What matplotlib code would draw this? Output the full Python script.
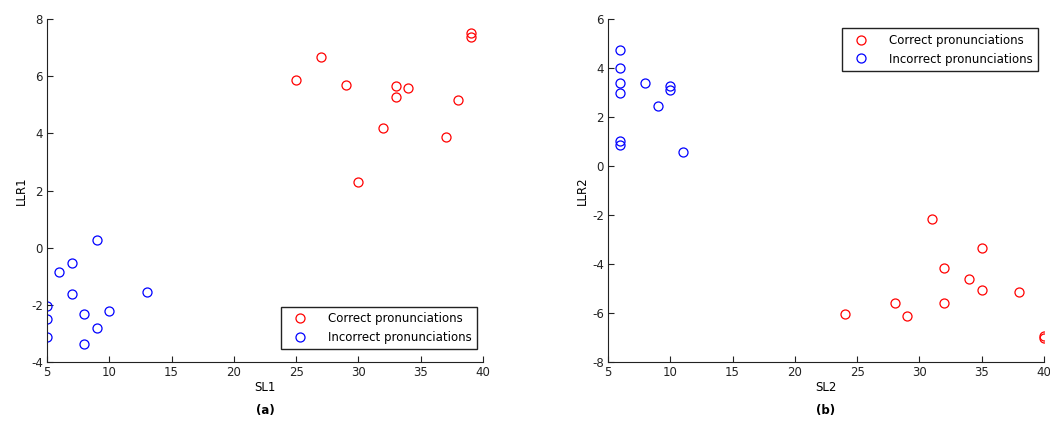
import matplotlib
matplotlib.use("Agg")
import matplotlib.pyplot as plt

# panel (a): SL1 vs LLR1
sl1_correct = [25, 27, 29, 30, 32, 33, 33, 34, 37, 38, 39, 39]
llr1_correct = [5.86, 6.68, 5.69, 2.31, 4.18, 5.65, 5.27, 5.58, 3.87, 5.16, 7.52, 7.36]
sl1_incorrect = [5, 5, 5, 6, 7, 7, 8, 8, 9, 9, 10, 13]
llr1_incorrect = [-2.05, -2.51, -3.14, -0.85, -0.54, -1.62, -2.32, -3.38, 0.28, -2.82, -2.22, -1.55]

# panel (b): SL2 vs LLR2
sl2_correct = [31, 35, 32, 34, 35, 38, 28, 32, 24, 29, 40, 40]
llr2_correct = [-2.18, -3.36, -4.18, -4.63, -5.07, -5.16, -5.6, -5.6, -6.03, -6.11, -6.95, -7.0]
sl2_incorrect = [6, 6, 6, 6, 6, 6, 8, 9, 10, 10, 11]
llr2_incorrect = [4.75, 4.01, 3.40, 2.99, 1.01, 0.86, 3.40, 2.45, 3.27, 3.10, 0.57]

labels = ["Correct pronunciations", "Incorrect pronunciations"]

plt.rcParams["font.family"] = ["DejaVu Sans"]
plt.rcParams["font.size"] = 8.5
plt.rcParams["axes.unicode_minus"] = False

fig = plt.figure(figsize=(10.5, 4.24), dpi=100)
ax1 = fig.add_axes((47 / 1050, 1 - 362 / 424, 436 / 1050, 343 / 424))
ax2 = fig.add_axes((608 / 1050, 1 - 362 / 424, 436 / 1050, 343 / 424))


def style(ax, ylim, yticks):
    ax.set_xlim(5, 40)
    ax.set_ylim(*ylim)
    ax.set_xticks(range(5, 41, 5))
    ax.set_yticks(yticks)
    for side in ("top", "right"):
        ax.spines[side].set_visible(False)
    for side in ("left", "bottom"):
        ax.spines[side].set_linewidth(0.8)
        ax.spines[side].set_color("#222222")
    ax.tick_params(direction="in", length=4, width=0.8, colors="#222222", pad=3)


kw = dict(linestyle="none", marker="o", markersize=6.5, markerfacecolor="none", markeredgewidth=0.9)
leg_kw = dict(frameon=True, fancybox=False, edgecolor="#222222", framealpha=1,
              handletextpad=1.3, borderpad=0.45, labelspacing=0.5, handlelength=2.2)

ax1.plot(sl1_correct, llr1_correct, color="red", label=labels[0], **kw)
ax1.plot(sl1_incorrect, llr1_incorrect, color="blue", label=labels[1], **kw)
style(ax1, (-4, 8), range(-4, 9, 2))
ax1.set_xlabel("SL1", labelpad=1)
ax1.set_ylabel("LLR1", labelpad=2)
ax1.legend(loc="lower right", bbox_to_anchor=(1.0, 0.02), **leg_kw)
ax1.text(0.5, -0.14, "(a)", transform=ax1.transAxes, ha="center", va="center",
         fontweight="bold", fontsize=8.5)

ax2.plot(sl2_correct, llr2_correct, color="red", label=labels[0], **kw)
ax2.plot(sl2_incorrect, llr2_incorrect, color="blue", label=labels[1], **kw)
style(ax2, (-8, 6), range(-8, 7, 2))
ax2.set_xlabel("SL2", labelpad=1)
ax2.set_ylabel("LLR2", labelpad=2)
ax2.legend(loc="upper right", bbox_to_anchor=(1.0, 0.99), **leg_kw)
ax2.text(0.5, -0.14, "(b)", transform=ax2.transAxes, ha="center", va="center",
         fontweight="bold", fontsize=8.5)

fig.savefig("out.png", dpi=100)
